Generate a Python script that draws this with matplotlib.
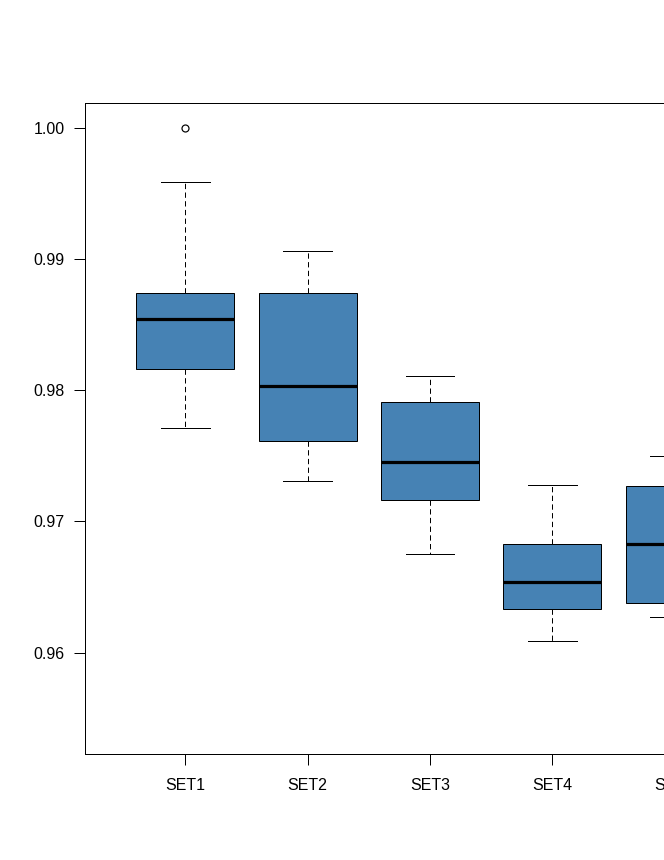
import matplotlib
matplotlib.use("Agg")
import matplotlib.pyplot as plt
from matplotlib.ticker import FormatStrFormatter

# Box statistics (only SET1-SET5 are in frame)
sets = ["SET1", "SET2", "SET3", "SET4", "SET5"]
whisker_low = [0.9771, 0.9731, 0.9675, 0.9609, 0.9627]
q1 = [0.9816, 0.9761, 0.9716, 0.9633, 0.9638]
median = [0.9854, 0.9803, 0.9745, 0.9654, 0.9683]
q3 = [0.9874, 0.9874, 0.9791, 0.9683, 0.9727]
whisker_high = [0.9959, 0.9906, 0.9811, 0.9728, 0.9750]
outliers = [[1.0000], [], [], [], []]

yticks = [0.96, 0.97, 0.98, 0.99, 1.00]

DPI = 100
W, H = 664, 860
px = 72.0 / DPI  # points per pixel

plt.rcParams['font.family'] = ['Liberation Sans', 'DejaVu Sans']

fig = plt.figure(figsize=(W / DPI, H / DPI), dpi=DPI)

# plot region: left at x=85px, spans 8 box slots (cropped on the right)
left, top, bottom = 85, 103.3, 753.7
slot = 122.35
xlim = (0.18, 8.82)
width_px = (xlim[1] - xlim[0]) * slot
ax = fig.add_axes([left / W, (H - bottom) / H, width_px / W, (bottom - top) / H])

stats = []
for i, name in enumerate(sets):
    stats.append({
        "label": name,
        "whislo": whisker_low[i],
        "q1": q1[i],
        "med": median[i],
        "q3": q3[i],
        "whishi": whisker_high[i],
        "fliers": outliers[i],
    })

ax.bxp(
    stats,
    positions=range(1, len(sets) + 1),
    widths=0.8,
    patch_artist=True,
    showfliers=True,
    boxprops=dict(facecolor="#4682B4", edgecolor="black", linewidth=1.0 * px),
    medianprops=dict(color="black", linewidth=3.2 * px, solid_capstyle="butt"),
    whiskerprops=dict(color="black", linewidth=1.0 * px, linestyle=(0, (5.3, 3.4))),
    capprops=dict(color="black", linewidth=1.0 * px),
    capwidths=0.4,
    flierprops=dict(marker="o", markerfacecolor="white", markeredgecolor="black",
                    markersize=7 * px, markeredgewidth=1.2 * px),
)

ax.set_xlim(*xlim)
ax.set_ylim(0.9523, 1.00186)
ax.set_yticks(yticks)
ax.yaxis.set_major_formatter(FormatStrFormatter("%.2f"))
ax.set_xticks(range(1, len(sets) + 1))
ax.set_xticklabels(sets)

for s in ax.spines.values():
    s.set_linewidth(1.0 * px)
    s.set_color("black")

ax.tick_params(axis="both", direction="out", length=11 * px, width=1.0 * px,
               labelsize=16 * px, colors="black")
ax.tick_params(axis="x", pad=13 * px)
ax.tick_params(axis="y", pad=9 * px)

fig.savefig("out.png", dpi=DPI)
